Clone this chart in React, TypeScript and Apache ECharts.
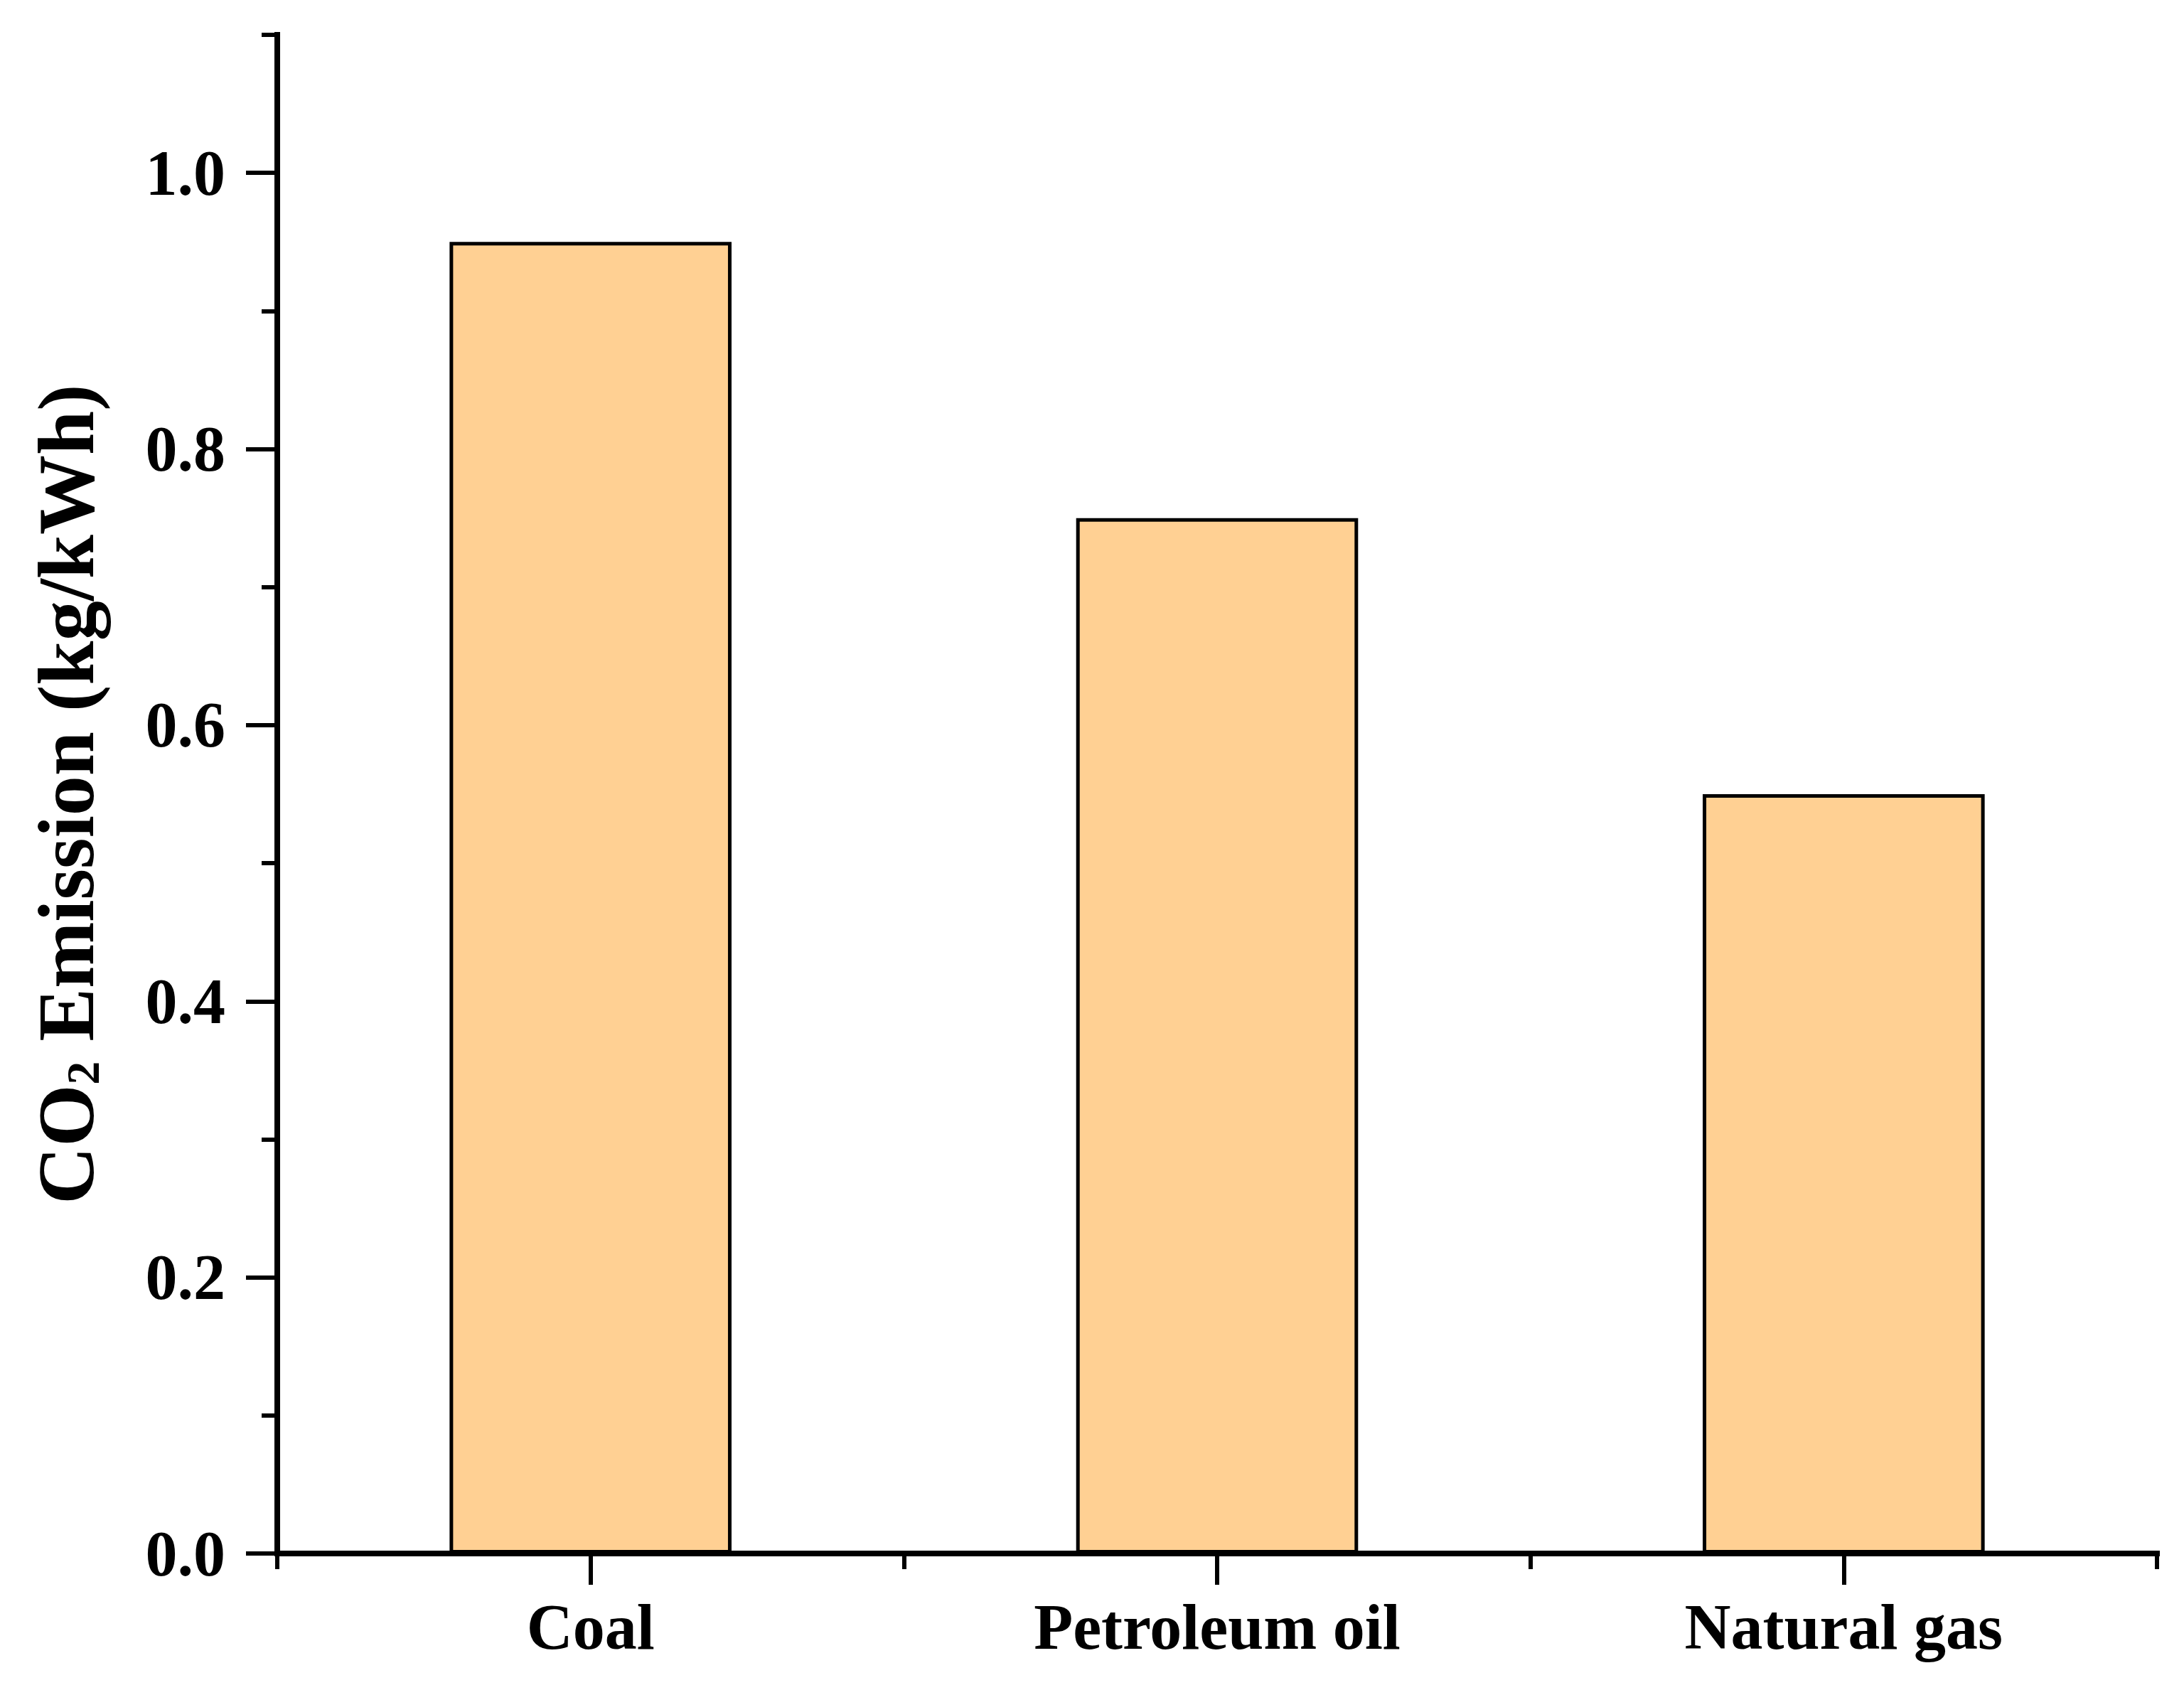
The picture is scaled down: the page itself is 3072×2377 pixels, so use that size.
import React, { useEffect, useRef } from "react";
import * as echarts from "echarts";

const categories = ["Coal", "Petroleum oil", "Natural gas"];
const emissions = [0.95, 0.75, 0.55];
const yMajorTicks = [0, 0.2, 0.4, 0.6, 0.8, 1.0];
const yMinorTicks = [0.1, 0.3, 0.5, 0.7, 0.9, 1.1];
const yMin = 0;
const yMax = 1.1;

const FONT = '"Liberation Serif", "Times New Roman", serif';

export default function App() {
  const ref = useRef<HTMLDivElement>(null);
  useEffect(() => {
    if (!ref.current) return;
    const chart = echarts.init(ref.current, null, { renderer: "svg" });
    const axisLineStyle = { color: "#000", width: 8, cap: "square" as const };
    chart.setOption({
      animation: false,
      backgroundColor: "#fff",
      grid: { left: 390, right: 38, top: 49, bottom: 192, containLabel: false },
      xAxis: [
        {
          type: "category",
          data: categories,
          position: "bottom",
          boundaryGap: true,
          axisLine: { show: true, onZero: false, lineStyle: axisLineStyle },
          axisTick: { show: true, alignWithLabel: true, length: 44, lineStyle: { color: "#000", width: 6 } },
          axisLabel: {
            show: true,
            margin: 58,
            color: "#000",
            fontFamily: FONT,
            fontWeight: "bold",
            fontSize: 90,
          },
          splitLine: { show: false },
        },
        {
          type: "category",
          data: categories,
          position: "bottom",
          boundaryGap: true,
          axisLine: { show: false, onZero: false },
          axisTick: { show: true, alignWithLabel: false, length: 22, lineStyle: { color: "#000", width: 6 } },
          axisLabel: { show: false },
          splitLine: { show: false },
        },
      ],
      yAxis: [
        {
          type: "value",
          position: "left",
          min: yMin,
          max: yMax,
          axisLine: { show: true, onZero: false, lineStyle: axisLineStyle },
          axisTick: { show: true, customValues: yMajorTicks, length: 44, lineStyle: { color: "#000", width: 6 } },
          axisLabel: {
            show: true,
            customValues: yMajorTicks,
            margin: 73,
            color: "#000",
            fontFamily: FONT,
            fontWeight: "bold",
            fontSize: 90,
            formatter: (v: number) => v.toFixed(1),
          },
          splitLine: { show: false },
          name: "{a|CO}{sub|2}{a| Emission (kg/kWh)}",
          nameLocation: "middle",
          nameRotate: 90,
          nameGap: 241,
          nameTextStyle: {
            rich: {
              a: { fontFamily: FONT, fontWeight: "bold", fontSize: 112, lineHeight: 112, color: "#000" },
              sub: {
                fontFamily: FONT,
                fontWeight: "bold",
                fontSize: 66,
                lineHeight: 10,
                color: "#000",
                verticalAlign: "bottom",
              },
            },
          },
        },
        {
          type: "value",
          position: "left",
          min: yMin,
          max: yMax,
          axisLine: { show: false, onZero: false },
          axisTick: { show: true, customValues: yMinorTicks, length: 22, lineStyle: { color: "#000", width: 6 } },
          axisLabel: { show: false },
          splitLine: { show: false },
        },
      ],
      series: [
        {
          type: "bar",
          xAxisIndex: 0,
          yAxisIndex: 0,
          data: emissions,
          barWidth: "45%",
          itemStyle: { color: "#FFD093", borderColor: "#000", borderWidth: 5 },
        },
      ],
    });
    return () => chart.dispose();
  }, []);
  return (
    <div
      ref={ref}
      style={{ position: "absolute", left: 0, top: 0, width: 3072, height: 2377, background: "#fff" }}
    />
  );
}
